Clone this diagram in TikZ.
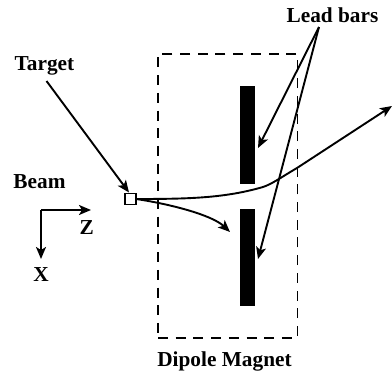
\documentclass[tikz,border=0pt]{standalone}
\usepackage{fontspec}
\setmainfont{Liberation Serif}
\usetikzlibrary{arrows.meta}
\tikzset{
  lbl/.style={font=\bfseries\fontsize{21.3}{24}\selectfont, inner sep=0pt, anchor=base},
  bar/.style={fill=black, draw=none, minimum width=14.5pt, inner sep=0pt},
  conn/.style={line width=1.9pt, -{Stealth[length=12pt,width=10pt,inset=3pt]}},
  magnet/.style={draw, line width=1.9pt, dash pattern=on 10pt off 7.7pt, minimum width=139.5pt, minimum height=284pt, inner sep=0pt},
  tgt/.style={draw, line width=1.8pt, fill=white, minimum width=11pt, minimum height=11pt, inner sep=0pt}
}
\begin{document}
\begin{tikzpicture}[x=1pt,y=-1pt]
\useasboundingbox (0,0) rectangle (392,375);
\node[magnet] (mag) at (227.75,196) {};
\node[bar, minimum height=98pt] (bar1) at (247.25,135) {};
\node[bar, minimum height=97.5pt] (bar2) at (247.25,257.25) {};
\node[lbl] (target) at (44.5,70.5) {Target};
\node[lbl] (beam) at (39.5,188) {Beam};
\node[lbl] (lead) at (332.5,22) {Lead bars};
\node[lbl] (dipole) at (224.5,366) {Dipole Magnet};
\node[lbl] (zl) at (86.7,234) {Z};
\node[lbl] (xl) at (41,281) {X};
\coordinate (o) at (41,210);
\coordinate (ze) at (91,210);
\coordinate (xe) at (41,259);
\coordinate (ls) at (319,27);
\coordinate (t1) at (258,148);
\coordinate (t2) at (258,259);
\coordinate (ts) at (46.5,81);
\coordinate (tt) at (129,192.5);
\coordinate (pe) at (392,106);
\coordinate (ne) at (230,232);
\coordinate (src) at (136,199);
\draw[conn] (ts) -- (tt);
\draw[conn] (ls) -- (t1);
\draw[conn] (ls) -- (t2);
\draw[conn] (o) -- (ze);
\draw[conn] (o) -- (xe);
\draw[conn] (src) .. controls (190,199) and (225,198) .. (263,187)
   .. controls (272,184) and (280,178) .. (297,168) -- (pe);
\draw[conn] (src) .. controls (170,204) and (212,215) .. (ne);
\node[tgt] (box) at (130.5,199) {};
\end{tikzpicture}
\end{document}
